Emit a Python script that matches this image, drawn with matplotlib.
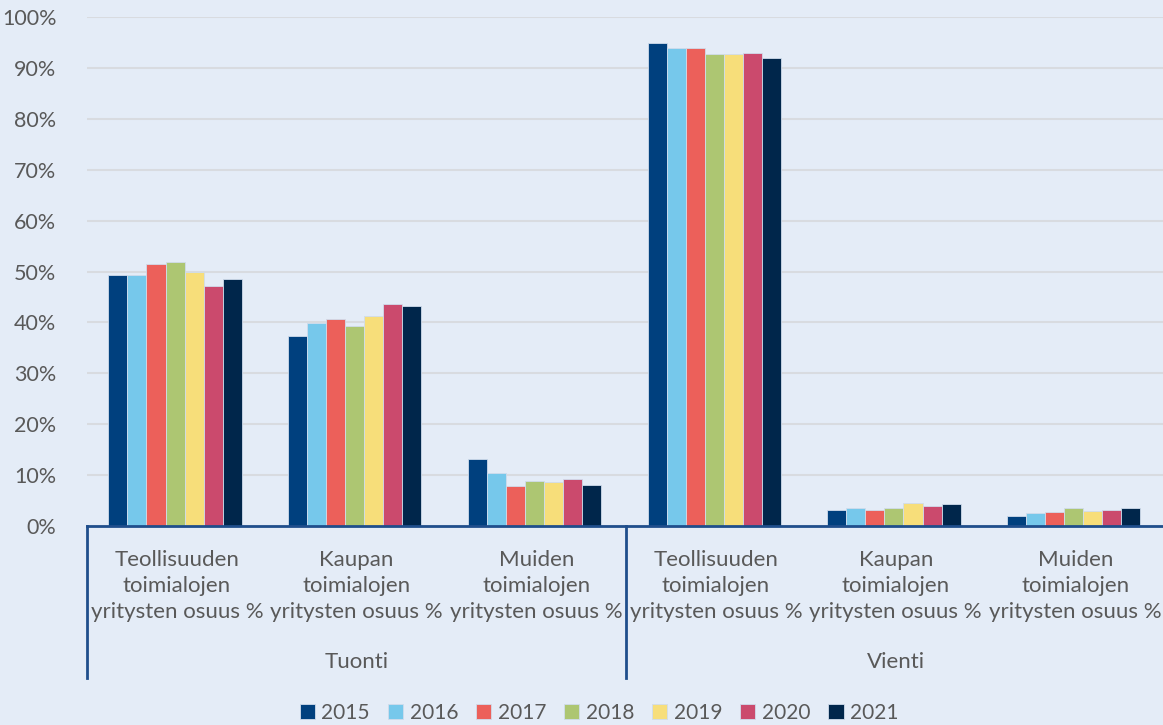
import matplotlib.pyplot as plt
import numpy as np
from matplotlib.ticker import PercentFormatter
import matplotlib.transforms as mtransforms

plt.rcParams['font.family'] = ['Lato', 'DejaVu Sans']

# kategoriat ja osuudet (%)
kategoriat = ["Teollisuuden\ntoimialojen\nyritysten osuus %",
              "Kaupan\ntoimialojen\nyritysten osuus %",
              "Muiden\ntoimialojen\nyritysten osuus %"] * 2
ryhmat = ["Tuonti", "Vienti"]
vuodet = ["2015", "2016", "2017", "2018", "2019", "2020", "2021"]

v2015 = [49.3, 37.3, 13.2, 94.8, 3.2, 2.0]
v2016 = [49.3, 39.9, 10.4, 93.9, 3.5, 2.5]
v2017 = [51.4, 40.6, 7.9, 94.0, 3.2, 2.7]
v2018 = [51.9, 39.2, 8.8, 92.7, 3.6, 3.6]
v2019 = [49.9, 41.3, 8.6, 92.7, 4.5, 2.9]
v2020 = [47.2, 43.6, 9.2, 92.9, 3.9, 3.2]
v2021 = [48.6, 43.2, 8.0, 92.0, 4.3, 3.6]
arvot = [v2015, v2016, v2017, v2018, v2019, v2020, v2021]

varit = ['#00407E', '#76C8EB', '#EC605A', '#ADC672', '#F7DE7A', '#CB4A6D', '#00264B']
tausta = '#E4ECF7'
teksti = '#595959'
viiva = '#1F4E8C'

fig = plt.figure(figsize=(11.63, 7.25), dpi=100, facecolor=tausta)
ax = fig.add_axes([87 / 1163, 1 - 526 / 725, 1 - 87 / 1163 + 0.002, (526 - 17) / 725])
ax.set_facecolor(tausta)

x = np.arange(len(kategoriat))
leveys = 0.106
for i, (vuosi, sarja) in enumerate(zip(vuodet, arvot)):
    ax.bar(x + (i - 3) * leveys - 0.01, sarja, width=leveys, color=varit[i], label=vuosi,
           edgecolor='#D0DCEC', linewidth=0.6, zorder=3)

ax.set_xlim(-0.5, 5.5)
ax.set_ylim(0, 100)
ax.set_yticks(np.arange(0, 101, 10))
ax.yaxis.set_major_formatter(PercentFormatter(decimals=0))
ax.tick_params(axis='y', length=0, pad=22, labelsize=15.5, labelcolor=teksti)
ax.set_xticks([])
ax.grid(axis='y', color='#D8DBE0', linewidth=1.5, zorder=0)
for s in ['top', 'right', 'left']:
    ax.spines[s].set_visible(False)
ax.spines['bottom'].set_color(viiva)
ax.spines['bottom'].set_linewidth(2)
ax.spines['bottom'].set_zorder(4)

# kategoriatekstit ja ryhmäjaot
trans = mtransforms.blended_transform_factory(ax.transData, fig.transFigure)
for xi, nimi in zip(x, kategoriat):
    ax.text(xi, 1 - 586 / 725, nimi, transform=trans, ha='center', va='center',
            fontsize=16, color=teksti, linespacing=1.36)
for j, r in enumerate(ryhmat):
    ax.text(1 + 3 * j, 1 - 662 / 725, r, transform=trans, ha='center', va='center',
            fontsize=16, color=teksti)
for xs in [-0.5, 2.5, 5.5]:
    ax.plot([xs, xs], [1 - 526 / 725, 1 - 678 / 725], transform=trans, color=viiva,
            linewidth=2, clip_on=False)

fig.legend(loc='center', bbox_to_anchor=(0.515, 1 - 713 / 725), ncol=7, frameon=False,
           handlelength=0.75, handleheight=0.75, handletextpad=0.3, columnspacing=0.85,
           fontsize=15, labelcolor=teksti)

fig.savefig('out.png', dpi=100, facecolor=tausta)
